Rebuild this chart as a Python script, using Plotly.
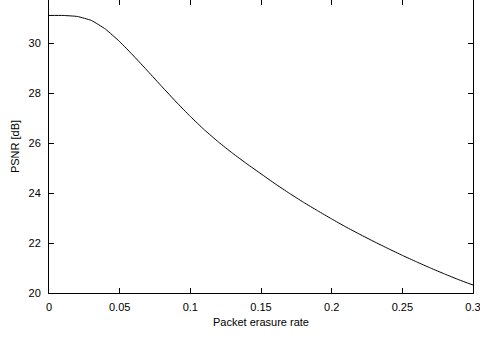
import plotly.graph_objects as go

erasure_rate = [0.00, 0.01, 0.02, 0.03, 0.04, 0.05, 0.06, 0.07, 0.08, 0.09,
                0.10, 0.11, 0.12, 0.13, 0.14, 0.15, 0.16, 0.17, 0.18, 0.19,
                0.20, 0.21, 0.22, 0.23, 0.24, 0.25, 0.26, 0.27, 0.28, 0.29, 0.30]
psnr_db = [31.13, 31.13, 31.09, 30.93, 30.58, 30.08, 29.50, 28.89, 28.27, 27.66,
           27.08, 26.54, 26.05, 25.60, 25.18, 24.78, 24.38, 24.00, 23.64, 23.30,
           22.97, 22.65, 22.35, 22.06, 21.78, 21.51, 21.25, 21.00, 20.76, 20.53, 20.32]

x_ticks = [0, 0.05, 0.1, 0.15, 0.2, 0.25, 0.3]
x_tick_labels = ["0", "0.05", "0.1", "0.15", "0.2", "0.25", "0.3"]
y_ticks = [20, 22, 24, 26, 28, 30]
y_tick_labels = ["20", "22", "24", "26", "28", "30"]

font = dict(family="Liberation Sans, Arial, Helvetica, sans-serif", size=11, color="black")

fig = go.Figure()
fig.add_trace(go.Scatter(x=erasure_rate, y=psnr_db, mode="lines",
                         line=dict(color="black", width=1, shape="spline", smoothing=0.4),
                         showlegend=False))

fig.update_layout(
    width=480, height=338,
    margin=dict(l=49, r=7, t=0, b=45),
    paper_bgcolor="white", plot_bgcolor="white",
    font=font,
    xaxis=dict(range=[0, 0.300001], tickvals=x_ticks, ticktext=x_tick_labels,
               ticks="inside", ticklen=5, tickcolor="black", tickwidth=1,
               showline=True, linecolor="black", linewidth=1, mirror="ticks",
               showgrid=False, zeroline=False, ticklabelstandoff=4,
               ticklabeloverflow="allow",
               title=dict(text="Packet erasure rate", font=dict(size=11), standoff=6)),
    yaxis=dict(range=[20, 31.75], tickvals=y_ticks, ticktext=y_tick_labels,
               ticks="inside", ticklen=5, tickcolor="black", tickwidth=1,
               showline=True, linecolor="black", linewidth=1, mirror="ticks",
               showgrid=False, zeroline=False, ticklabelstandoff=5,
               title=dict(text="PSNR [dB]", font=dict(size=11), standoff=6)),
)

fig.write_html("out.html")
